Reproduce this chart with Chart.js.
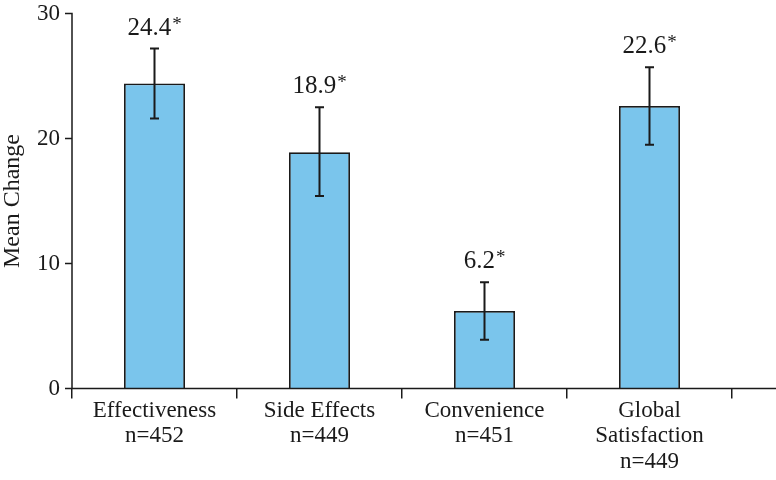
<!DOCTYPE html>
<html>
<head>
<meta charset="utf-8">
<script src="https://cdn.jsdelivr.net/npm/chart.js@4"></script>
<style>
html,body{margin:0;padding:0;background:#fff;}
#wrap{width:776px;height:480px;position:relative;}
</style>
</head>
<body>
<div id="wrap"><canvas id="c" width="776" height="480"></canvas></div>
<script>
const categories = [["Effectiveness","n=452"],["Side Effects","n=449"],["Convenience","n=451"],["Global","Satisfaction","n=449"]];
const meanChange = [24.4, 18.9, 6.2, 22.6];
const errLow = [21.6, 15.4, 3.9, 19.5];
const errHigh = [27.2, 22.5, 8.5, 25.7];
const valueLabels = ["24.4", "18.9", "6.2", "22.6"];
const yTicks = [0, 10, 20, 30];

const FONT = "'Liberation Serif', 'Times New Roman', serif";
const INK = '#1a1a1a';

const errorBarPlugin = {
  id: 'errorBars',
  afterDatasetsDraw(chart) {
    const ctx = chart.ctx;
    const meta = chart.getDatasetMeta(0);
    const y = chart.scales.y;
    const a = chart.chartArea;
    ctx.save();
    // axes lines and y ticks
    ctx.strokeStyle = INK;
    ctx.lineWidth = 1.5;
    ctx.beginPath();
    ctx.moveTo(a.left, a.top - 0.75);
    ctx.lineTo(a.left, a.bottom);
    ctx.moveTo(a.left - 0.75, a.bottom);
    ctx.lineTo(776, a.bottom);
    yTicks.forEach(v => {
      const py = y.getPixelForValue(v);
      ctx.moveTo(a.left - 7, py);
      ctx.lineTo(a.left, py);
    });
    ctx.stroke();

    ctx.strokeStyle = INK;
    ctx.lineWidth = 2;
    meta.data.forEach((bar, i) => {
      const x = bar.x;
      const yt = y.getPixelForValue(errHigh[i]);
      const yb = y.getPixelForValue(errLow[i]);
      ctx.beginPath();
      ctx.moveTo(x, yt); ctx.lineTo(x, yb);
      ctx.moveTo(x - 4.5, yt); ctx.lineTo(x + 4.5, yt);
      ctx.moveTo(x - 4.5, yb); ctx.lineTo(x + 4.5, yb);
      ctx.stroke();
      // value label
      const main = valueLabels[i];
      ctx.font = '25px ' + FONT;
      const w1 = ctx.measureText(main).width;
      ctx.font = '19px ' + FONT;
      const w2 = ctx.measureText('*').width;
      const total = w1 + 1 + w2;
      const base = yt - 14;
      ctx.fillStyle = INK;
      ctx.textBaseline = 'alphabetic';
      ctx.textAlign = 'left';
      ctx.font = '25px ' + FONT;
      ctx.fillText(main, x - total / 2, base);
      ctx.font = '19px ' + FONT;
      ctx.fillText('*', x - total / 2 + w1 + 1, base - 5);
    });
    ctx.restore();
  }
};

new Chart(document.getElementById('c'), {
  type: 'bar',
  data: {
    labels: categories,
    datasets: [{
      data: meanChange,
      backgroundColor: '#7AC5EC',
      borderColor: INK,
      borderWidth: 1.8,
      borderSkipped: 'bottom',
      barPercentage: 0.37,
      categoryPercentage: 1.0
    }]
  },
  options: {
    responsive: false,
    animation: false,
    devicePixelRatio: 1,
    layout: { padding: { left: 0, right: 44, top: 13.5, bottom: 0 } },
    plugins: { legend: { display: false }, tooltip: { enabled: false } },
    scales: {
      x: {
        type: 'category',
        offset: true,
        grid: { display: true, drawOnChartArea: false, drawTicks: true, tickLength: 10, color: INK, lineWidth: 1.5, offset: true },
        border: { display: false },
        ticks: { color: INK, font: { family: FONT, size: 23, lineHeight: 1.1 }, padding: 0, maxRotation: 0, autoSkip: false },
        afterFit(s) { s.height = 91.5; }
      },
      y: {
        min: 0, max: 30,
        afterBuildTicks(s) { s.ticks = yTicks.map(v => ({ value: v })); },
        grid: { display: true, drawOnChartArea: false, drawTicks: true, tickLength: 12, color: 'rgba(0,0,0,0)' },
        border: { display: false },
        ticks: { color: INK, font: { family: FONT, size: 23, lineHeight: 0.9 }, padding: 0 },
        title: { display: true, text: 'Mean Change', color: INK, font: { family: FONT, size: 24, lineHeight: 1.1 }, padding: { top: 0, bottom: 0 } },
        afterFit(s) { s.width = 72; }
      }
    }
  },
  plugins: [errorBarPlugin]
});
</script>
</body>
</html>
